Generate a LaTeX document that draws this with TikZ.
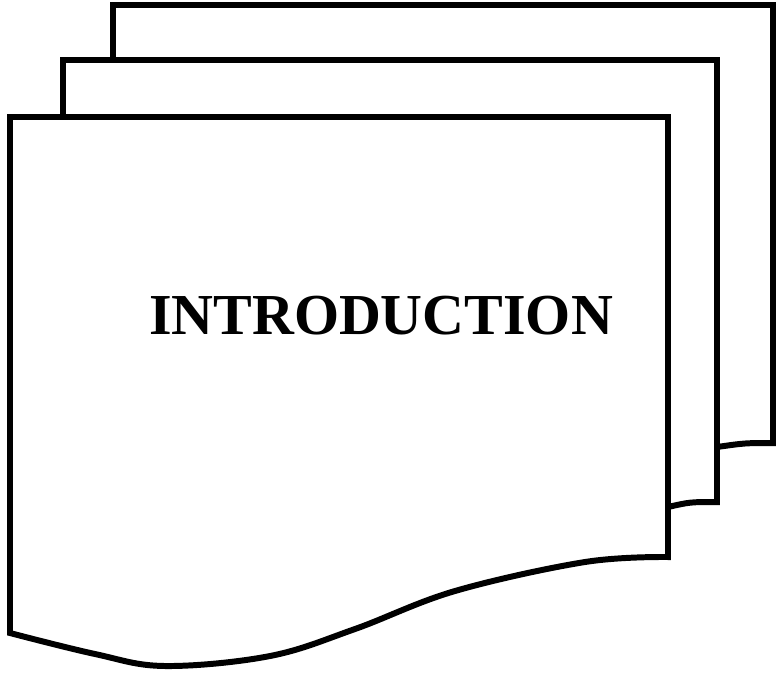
\documentclass[tikz,border=0pt]{standalone}
\usepackage{fontspec}
\setmainfont{Liberation Serif}
\usetikzlibrary{positioning}
\tikzset{
  page/.style={draw=black, line width=3.4pt, fill=white, line join=miter},
  title/.style={font=\fontsize{33}{36}\selectfont\bfseries, inner sep=0pt}}

\begin{document}
\begin{tikzpicture}[x=0.02cm, y=-0.02cm]
\useasboundingbox (0,0) rectangle (777,674);
% back sheet
\draw[page] (113,5) -- (773,5) -- (773,443) .. controls (745,443) .. (717,447) -- (113,447) -- cycle;
% middle sheet
\draw[page] (63,60) -- (717,60) -- (717,502) .. controls (690,502) .. (668,507) -- (63,507) -- cycle;
% front sheet
\draw[page] (10,117) -- (668,117)
  -- plot[smooth, tension=0.6] coordinates {(668,557) (585,562) (455,591) (355,629) (270,656) (165,666) (95,654) (10,633)}
  -- cycle;
\node[title] (intro) at (381,316) {INTRODUCTION};
\end{tikzpicture}
\end{document}
